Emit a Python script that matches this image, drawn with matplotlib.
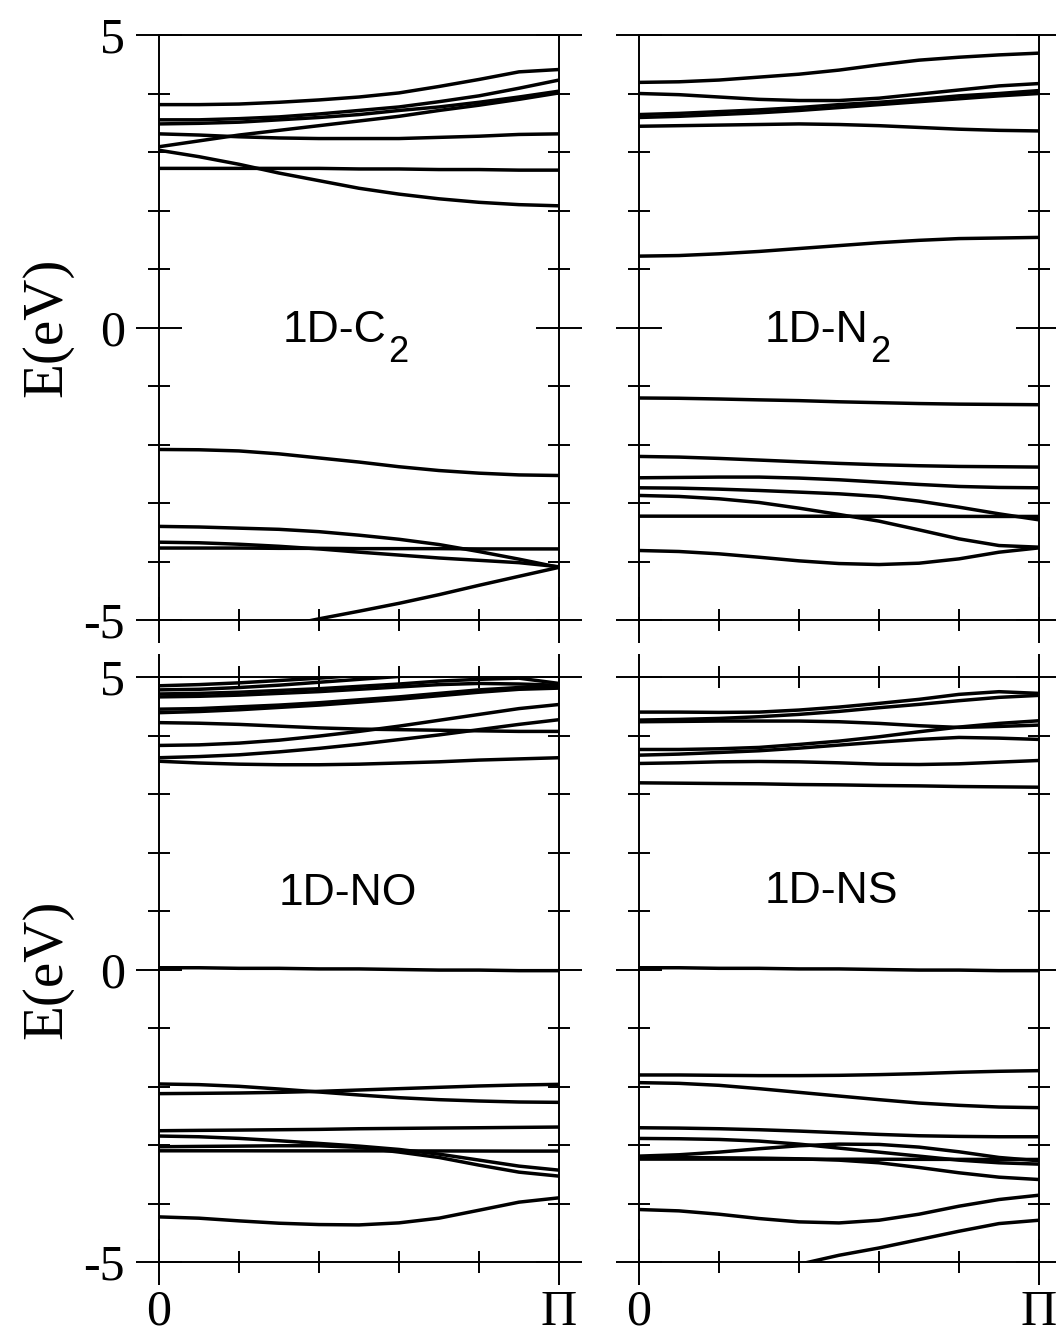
import numpy as np
import matplotlib.pyplot as plt
from matplotlib.ticker import MultipleLocator

plt.rcParams['font.family'] = ['Liberation Serif', 'DejaVu Serif']

nan = np.nan

# k-points along 0 -> Pi (as fraction of the zone)
kpts = [0.0, 0.1, 0.2, 0.3, 0.4, 0.5, 0.6, 0.7, 0.8, 0.9, 1.0]

# 1D-C2 bands (eV)
c2_bands = [
    [3.81, 3.81, 3.82, 3.85, 3.89, 3.94, 4.01, 4.12, 4.24, 4.37, 4.41],
    [3.55, 3.55, 3.57, 3.60, 3.65, 3.71, 3.77, 3.86, 3.96, 4.09, 4.23],
    [3.48, 3.49, 3.51, 3.55, 3.59, 3.64, 3.71, 3.77, 3.85, 3.94, 4.04],
    [3.09, 3.19, 3.29, 3.37, 3.45, 3.53, 3.61, 3.71, 3.80, 3.90, 4.01],
    [3.31, 3.29, 3.26, 3.24, 3.23, 3.23, 3.23, 3.25, 3.27, 3.30, 3.31],
    [3.03, 2.92, 2.79, 2.64, 2.51, 2.38, 2.28, 2.20, 2.14, 2.10, 2.08],
    [2.72, 2.72, 2.72, 2.72, 2.72, 2.71, 2.71, 2.70, 2.70, 2.69, 2.69],
    [-2.085, -2.09, -2.11, -2.16, -2.23, -2.30, -2.38, -2.445, -2.49, -2.52, -2.53],
    [-3.40, -3.41, -3.43, -3.45, -3.49, -3.55, -3.62, -3.71, -3.83, -3.96, -4.10],
    [-3.77, -3.77, -3.77, -3.775, -3.775, -3.78, -3.78, -3.78, -3.785, -3.785, -3.785],
    [-3.67, -3.68, -3.705, -3.74, -3.785, -3.84, -3.89, -3.94, -3.98, -4.02, -4.09],
    [nan, nan, nan, -5.12, -4.98, -4.85, -4.715, -4.567, -4.407, -4.253, -4.10],
]

# 1D-N2 bands (eV)
n2_bands = [
    [4.19, 4.20, 4.23, 4.28, 4.33, 4.40, 4.49, 4.57, 4.62, 4.66, 4.69],
    [4.00, 3.98, 3.94, 3.90, 3.88, 3.88, 3.92, 3.99, 4.06, 4.13, 4.17],
    [3.64, 3.66, 3.69, 3.72, 3.76, 3.81, 3.85, 3.90, 3.96, 4.00, 4.05],
    [3.59, 3.61, 3.64, 3.67, 3.71, 3.76, 3.81, 3.86, 3.91, 3.96, 4.00],
    [3.44, 3.45, 3.46, 3.47, 3.48, 3.47, 3.45, 3.42, 3.39, 3.37, 3.36],
    [1.22, 1.23, 1.26, 1.30, 1.35, 1.40, 1.45, 1.49, 1.52, 1.53, 1.54],
    [-1.205, -1.21, -1.222, -1.237, -1.25, -1.27, -1.285, -1.30, -1.31, -1.315, -1.32],
    [-2.204, -2.215, -2.238, -2.266, -2.295, -2.323, -2.346, -2.363, -2.375, -2.38, -2.386],
    [-2.569, -2.563, -2.557, -2.557, -2.574, -2.603, -2.643, -2.683, -2.717, -2.734, -2.74],
    [-2.74, -2.746, -2.763, -2.786, -2.814, -2.843, -2.888, -2.968, -3.071, -3.185, -3.288],
    [-2.871, -2.888, -2.928, -2.991, -3.088, -3.196, -3.31, -3.459, -3.613, -3.727, -3.755],
    [-3.225, -3.225, -3.225, -3.226, -3.226, -3.227, -3.227, -3.228, -3.229, -3.23, -3.23],
    [-3.812, -3.829, -3.869, -3.927, -3.989, -4.035, -4.052, -4.029, -3.955, -3.841, -3.767],
]

# 1D-NO bands (eV)
no_bands = [
    [4.85, 4.87, 4.90, 4.94, 4.98, 5.03, 5.08, nan, nan, nan, nan],
    [4.78, 4.79, 4.82, 4.86, 4.91, 4.96, 5.01, 5.06, nan, nan, nan],
    [4.71, 4.72, 4.74, 4.77, 4.80, 4.84, 4.88, 4.93, 4.96, 4.98, 4.89],
    [4.66, 4.67, 4.69, 4.72, 4.75, 4.79, 4.83, 4.87, 4.89, 4.88, 4.86],
    [4.45, 4.46, 4.49, 4.52, 4.56, 4.61, 4.66, 4.72, 4.78, 4.82, 4.83],
    [4.39, 4.41, 4.44, 4.48, 4.52, 4.57, 4.62, 4.68, 4.74, 4.79, 4.81],
    [4.22, 4.21, 4.19, 4.16, 4.13, 4.11, 4.10, 4.09, 4.08, 4.07, 4.07],
    [3.83, 3.84, 3.87, 3.92, 3.99, 4.07, 4.16, 4.26, 4.36, 4.46, 4.53],
    [3.62, 3.64, 3.67, 3.72, 3.78, 3.85, 3.93, 4.01, 4.10, 4.19, 4.27],
    [3.56, 3.53, 3.51, 3.50, 3.50, 3.51, 3.53, 3.55, 3.58, 3.60, 3.62],
    [0.03, 0.03, 0.02, 0.02, 0.01, 0.01, 0.0, -0.01, -0.01, -0.02, -0.02],
    [-1.957, -1.968, -1.997, -2.043, -2.094, -2.145, -2.191, -2.225, -2.248, -2.265, -2.271],
    [-2.122, -2.117, -2.111, -2.10, -2.083, -2.06, -2.037, -2.014, -1.991, -1.974, -1.963],
    [-2.756, -2.75, -2.745, -2.739, -2.733, -2.722, -2.716, -2.71, -2.705, -2.699, -2.693],
    [-2.847, -2.859, -2.887, -2.927, -2.973, -3.019, -3.076, -3.156, -3.258, -3.361, -3.43],
    [-3.03, -3.024, -3.019, -3.013, -3.013, -3.041, -3.121, -3.213, -3.344, -3.464, -3.532],
    [-3.099, -3.099, -3.099, -3.1, -3.1, -3.1, -3.101, -3.102, -3.103, -3.104, -3.104],
    [-4.229, -4.251, -4.297, -4.337, -4.36, -4.366, -4.331, -4.251, -4.115, -3.977, -3.903],
]

# 1D-NS bands (eV)
ns_bands = [
    [4.40, 4.40, 4.395, 4.40, 4.435, 4.486, 4.549, 4.618, 4.703, 4.749, 4.72],
    [4.264, 4.275, 4.292, 4.321, 4.361, 4.412, 4.475, 4.532, 4.595, 4.652, 4.686],
    [4.235, 4.241, 4.247, 4.247, 4.247, 4.235, 4.207, 4.167, 4.138, 4.155, 4.178],
    [3.761, 3.761, 3.773, 3.796, 3.847, 3.904, 3.978, 4.064, 4.144, 4.207, 4.252],
    [3.664, 3.682, 3.71, 3.739, 3.784, 3.836, 3.887, 3.933, 3.967, 3.955, 3.933],
    [3.522, 3.533, 3.55, 3.556, 3.55, 3.533, 3.51, 3.504, 3.516, 3.545, 3.573],
    [3.191, 3.185, 3.179, 3.174, 3.162, 3.156, 3.145, 3.139, 3.128, 3.122, 3.116],
    [0.03, 0.03, 0.02, 0.02, 0.01, 0.01, 0.0, -0.01, -0.01, -0.02, -0.02],
    [-1.803, -1.803, -1.809, -1.814, -1.814, -1.809, -1.797, -1.78, -1.757, -1.74, -1.729],
    [-1.934, -1.946, -1.98, -2.037, -2.1, -2.163, -2.225, -2.283, -2.322, -2.351, -2.362],
    [-2.705, -2.711, -2.722, -2.739, -2.762, -2.79, -2.819, -2.842, -2.853, -2.859, -2.859],
    [-2.888, -2.893, -2.905, -2.933, -2.985, -3.053, -3.122, -3.19, -3.259, -3.304, -3.327],
    [-3.19, -3.167, -3.122, -3.064, -3.013, -2.985, -2.99, -3.036, -3.116, -3.213, -3.27],
    [-3.213, -3.213, -3.219, -3.224, -3.236, -3.259, -3.304, -3.384, -3.475, -3.55, -3.59],
    [-3.241, -3.241, -3.241, -3.242, -3.242, -3.243, -3.244, -3.245, -3.246, -3.247, -3.247],
    [-4.103, -4.126, -4.183, -4.257, -4.314, -4.332, -4.286, -4.183, -4.046, -3.932, -3.858],
    [nan, nan, nan, -5.2, -5.04, -4.885, -4.76, -4.617, -4.474, -4.343, -4.286],
]

panel_names = ['1D-C', '1D-N', '1D-NO', '1D-NS']
panel_subs = ['2', '2', '', '']
ytick_vals = [-5, 0, 5]
ytick_text = ['-5', '0', '5']
xtick_vals = [0, 1]
xtick_text = ['0', '\u03a0']

W, H = 1056, 1342
fig = plt.figure(figsize=(W / 100, H / 100), dpi=100)


def px_box(left, top, right, bottom):
    return [left / W, 1 - bottom / H, (right - left) / W, (bottom - top) / H]


# (box, bands, label pos, is left col, is bottom row)
panels = [
    (px_box(159, 35, 559, 620), c2_bands, (0.31, -0.25), True, False),
    (px_box(639, 35, 1039, 620), n2_bands, (0.315, -0.25), False, False),
    (px_box(159, 677, 559, 1262), no_bands, (0.30, 1.11), True, True),
    (px_box(639, 677, 1039, 1262), ns_bands, (0.315, 1.14), False, True),
]

for i, (box, bands, lpos, is_left, is_bottom) in enumerate(panels):
    ax = fig.add_axes(box)
    for b in bands:
        ax.plot(kpts, b, color='black', lw=2.5, solid_capstyle='butt')

    ax.set_xlim(0, 1)
    ax.set_ylim(-5, 5)
    ax.set_xticks(xtick_vals, xtick_text if is_bottom else [])
    ax.set_yticks(ytick_vals, ytick_text if is_left else [])
    ax.xaxis.set_minor_locator(MultipleLocator(0.2))
    ax.yaxis.set_minor_locator(MultipleLocator(1))

    ax.tick_params(which='both', direction='inout', width=1.4, color='black',
                   left=True, right=True, bottom=True, top=is_bottom,
                   labelleft=is_left, labelbottom=is_bottom, labelsize=36)
    ax.tick_params(which='major', length=33, pad=8)
    ax.tick_params(which='minor', length=16.5)
    ax.tick_params(axis='x', which='major', pad=3)
    for sp in ax.spines.values():
        sp.set_linewidth(1.4)

    if is_left:
        ax.set_ylabel('E(eV)', fontsize=41, labelpad=7)

    t = ax.text(lpos[0], lpos[1], panel_names[i], family=['Liberation Sans', 'DejaVu Sans'],
                fontsize=32, ha='left', va='baseline')
    if panel_subs[i]:
        ax.annotate(panel_subs[i], xy=(1, 0), xycoords=t, xytext=(1, -8),
                    textcoords='offset points', family=['Liberation Sans', 'DejaVu Sans'],
                    fontsize=26, ha='left', va='baseline')

fig.savefig('out.png', dpi=100)
